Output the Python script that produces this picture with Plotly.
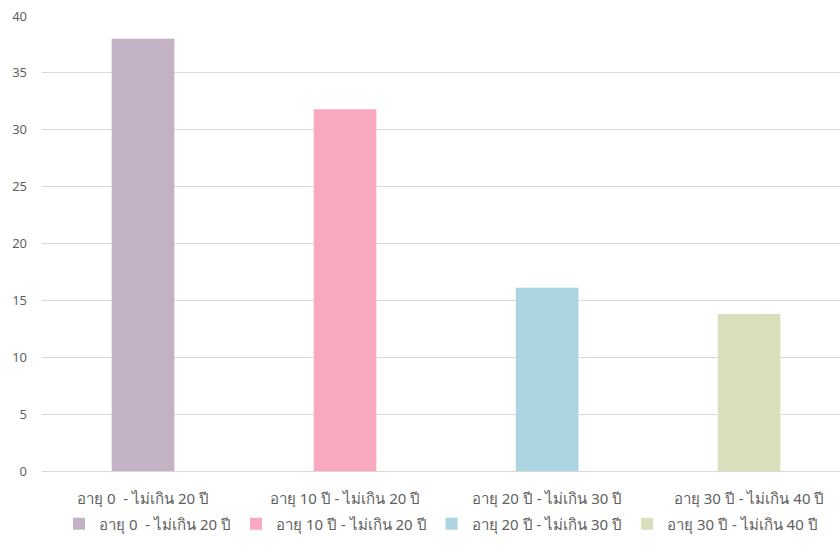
import plotly.graph_objects as go

categories = ["อายุ 0  - ไม่เกิน 20 ปี", "อายุ 10 ปี - ไม่เกิน 20 ปี", "อายุ 20 ปี - ไม่เกิน 30 ปี", "อายุ 30 ปี - ไม่เกิน 40 ปี"]
values = [38, 31.8, 16.1, 13.8]
colors = ["#c3b1c4", "#f8a9c0", "#a9d4e0", "#d9dfba"]

fig = go.Figure()
for c, v, col in zip(categories, values, colors):
    fig.add_trace(go.Bar(x=[c], y=[v], name=c, marker_color=col, width=0.31,
                         marker_line_width=0))

fig.update_layout(
    width=840, height=560,
    margin=dict(l=42, r=0, t=16, b=89),
    paper_bgcolor="white", plot_bgcolor="white",
    barmode="overlay",
    font=dict(family="Noto Sans, sans-serif", size=15, color="#5f5f5f"),
    showlegend=True,
    legend=dict(orientation="h", x=0.5, xanchor="center", y=-0.08, yanchor="top",
                font=dict(size=15, color="#5f5f5f"), itemwidth=30,
                tracegroupgap=0),
    xaxis=dict(range=[-0.5, 3.45], showgrid=False, showline=False, ticks="",
               tickfont=dict(size=15, color="#5f5f5f"), ticklabelstandoff=17),
    yaxis=dict(range=[0, 40], dtick=5, showgrid=True, gridcolor="#d9d9d9",
               zeroline=True, zerolinecolor="#d9d9d9", zerolinewidth=1,
               ticks="", tickfont=dict(size=13, color="#5f5f5f"),
               ticklabelstandoff=14),
)

fig.write_html("out.html")
